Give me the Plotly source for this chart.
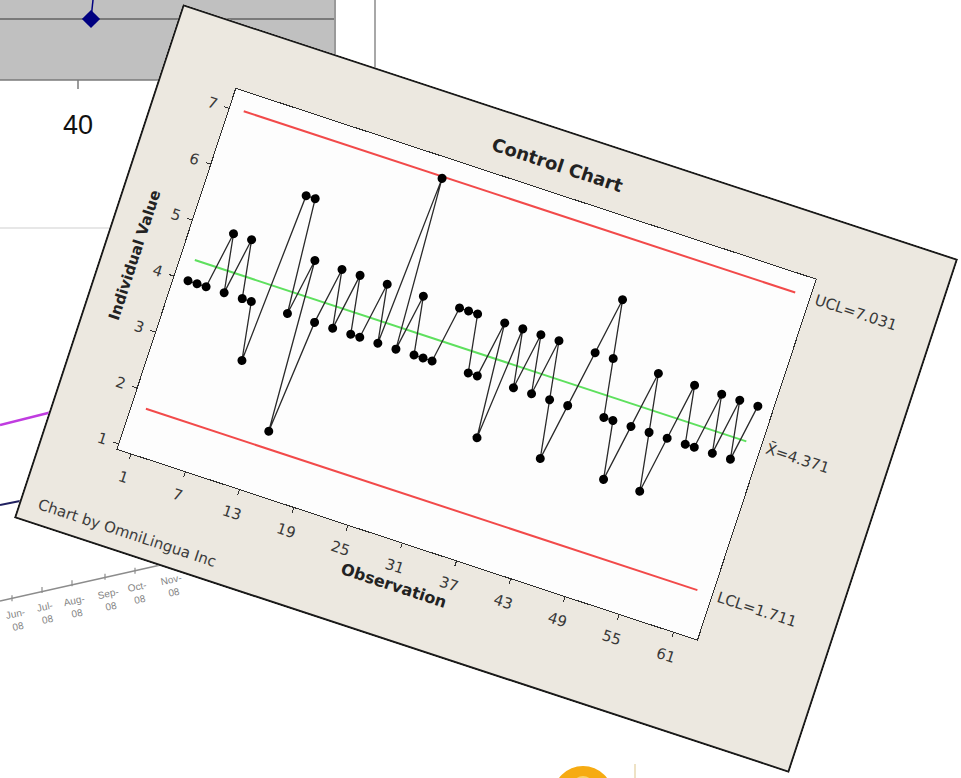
import json
import plotly.graph_objects as go

# ---------------- data ----------------
observation = list(range(1, 63))
individual_value = [4, 4, 4, 5, 4, 5, 4, 4, 3, 6,
                    6, 4, 5, 2, 4, 5, 4, 5, 4, 4,
                    5, 4, 7, 4, 5, 4, 4, 4, 5, 5,
                    5, 4, 4, 5, 3, 5, 4, 5, 4, 5,
                    4, 3, 4, 5, 6, 5, 4, 4, 3, 4,
                    5, 4, 3, 4, 5, 4, 4, 5, 4, 5,
                    4, 5]
ucl_value = 7.031
center_value = 4.371
lcl_value = 1.711
x_tick_values = [1, 7, 13, 19, 25, 31, 37, 43, 49, 55, 61]
y_tick_values = [1, 2, 3, 4, 5, 6, 7]
month_labels = ["Jun-<br>08", "Jul-<br>08", "Aug-<br>08", "Sep-<br>08", "Oct-<br>08", "Nov-<br>08"]

# ---------------- control chart (drawn unrotated, rotated by CSS) ----------------
W, H = 816, 541
ML, MR, MT, MB = 77, 129, 64, 98
PW, PH = W - ML - MR, H - MT - MB
FONT = "DejaVu Sans"
TXT = "#383838"

fig = go.Figure()
for val, col in [(ucl_value, "#f24a4a"), (center_value, "#5ee05e"), (lcl_value, "#f24a4a")]:
    fig.add_trace(go.Scatter(x=[observation[0], observation[-1]], y=[val, val], mode="lines",
                             line=dict(color=col, width=2), hoverinfo="skip", showlegend=False))
fig.add_trace(go.Scatter(x=observation, y=individual_value, mode="lines+markers",
                         line=dict(color="#2a2a2a", width=1.3),
                         marker=dict(color="#000000", size=9),
                         showlegend=False))

axis_common = dict(showgrid=False, zeroline=False, showline=True, mirror=True,
                   linecolor="#303030", linewidth=1, ticks="outside", ticklen=5,
                   tickcolor="#303030", tickfont=dict(family=FONT, size=15, color=TXT))
fig.update_xaxes(range=[-0.5, 63.6], tickvals=x_tick_values, ticklabelstandoff=6,
                 title=dict(text="Observation", standoff=4,
                            font=dict(family=FONT, size=16, color="#222", weight="bold")),
                 **axis_common)
fig.update_yaxes(range=[0.913, 7.35], tickvals=y_tick_values, ticklabelstandoff=4,
                 title=dict(text="Individual Value", standoff=12,
                            font=dict(family=FONT, size=15, color="#222", weight="bold")),
                 **axis_common)

fig.add_annotation(x=1, xref="paper", xanchor="left", xshift=4, y=ucl_value, yref="y",
                   text="UCL=7.031", showarrow=False, font=dict(family=FONT, size=15, color=TXT))
fig.add_annotation(x=1, xref="paper", xanchor="left", xshift=4, y=center_value, yref="y",
                   text="X\u0304=4.371", showarrow=False, font=dict(family=FONT, size=15, color=TXT))
fig.add_annotation(x=1, xref="paper", xanchor="left", xshift=4, y=lcl_value, yref="y",
                   text="LCL=1.711", showarrow=False, font=dict(family=FONT, size=15, color=TXT))
fig.add_annotation(x=(17 - ML) / PW, xref="paper", xanchor="left", y=-(520 - (MT + PH)) / PH,
                   yref="paper", yanchor="middle", text="Chart by OmniLingua Inc", showarrow=False,
                   font=dict(family=FONT, size=15, color="#3c3c3c"))
# outer frame border
fig.add_shape(type="rect", xref="paper", yref="paper",
              x0=(-ML + 1) / PW, x1=(W - ML - 1) / PW, y0=-(MB - 1) / PH, y1=1 + (MT - 1) / PH,
              line=dict(color="#1a1a1a", width=2), fillcolor="rgba(0,0,0,0)")

fig.update_layout(
    width=W, height=H, margin=dict(l=ML, r=MR, t=MT, b=MB, autoexpand=False),
    paper_bgcolor="#ece8e0", plot_bgcolor="#fdfdfd",
    title=dict(text="Control Chart", x=406 / W, xanchor="center", y=1 - 36 / H, yanchor="middle",
               font=dict(family=FONT, size=18, color="#222", weight="bold")),
    font=dict(family=FONT, color=TXT),
)

# ---------------- background page (other charts partly visible) ----------------
bg = go.Figure()
bg.update_layout(width=961, height=778, margin=dict(l=0, r=0, t=0, b=0),
                 paper_bgcolor="#ffffff", plot_bgcolor="#ffffff", showlegend=False,
                 template="none",
                 xaxis=dict(range=[0, 961], visible=False, fixedrange=True),
                 yaxis=dict(range=[778, 0], visible=False, fixedrange=True))
below = dict(layer="below")
bg.add_shape(type="rect", x0=0, x1=335, y0=-2, y1=80, fillcolor="#c0c0c0", line=dict(width=0), **below)
bg.add_shape(type="line", x0=0, x1=335, y0=19, y1=19, line=dict(color="#7a7a7a", width=2), **below)
bg.add_shape(type="line", x0=0, x1=335, y0=80, y1=80, line=dict(color="#7a7a7a", width=1.5), **below)
bg.add_shape(type="line", x0=335, x1=335, y0=0, y1=80, line=dict(color="#9a9a9a", width=2), **below)
bg.add_shape(type="line", x0=78, x1=78, y0=80, y1=89, line=dict(color="#7a7a7a", width=1.5), **below)
bg.add_shape(type="line", x0=375, x1=375, y0=0, y1=90, line=dict(color="#a8a8a8", width=2), **below)
bg.add_shape(type="line", x0=0, x1=130, y0=228, y1=228, line=dict(color="#cfcfcf", width=1), **below)
bg.add_shape(type="line", x0=93, x1=91, y0=0, y1=19, line=dict(color="#000080", width=1.5), **below)
bg.add_trace(go.Scatter(x=[91], y=[19], mode="markers", hoverinfo="skip",
                        marker=dict(symbol="diamond", size=14, color="#000080")))
bg.add_annotation(x=78, y=125, text="40", showarrow=False,
                  font=dict(family="Liberation Sans", size=27, color="#111"))
bg.add_shape(type="line", x0=0, x1=52, y0=425, y1=412, line=dict(color="#c03ce0", width=2.5), **below)
bg.add_shape(type="line", x0=0, x1=20, y0=505, y1=501, line=dict(color="#202060", width=2), **below)
bg.add_shape(type="line", x0=0, x1=165, y0=601, y1=564, line=dict(color="#8c8c8c", width=1.5), **below)
month_x = [16.7, 45.8, 75, 109, 138.7, 172]
month_y = [620, 613, 607, 600, 593, 586.3]
tick_x = [12, 42, 72, 105, 135]
tick_y = [598.3, 590, 583.3, 576.7, 570.7]
for tx, ty in zip(tick_x, tick_y):
    bg.add_shape(type="line", x0=tx, x1=tx, y0=ty - 3, y1=ty + 3, line=dict(color="#8c8c8c", width=1.2), **below)
for lbl, mx, my in zip(month_labels, month_x, month_y):
    bg.add_annotation(x=mx, y=my, text=lbl, showarrow=False, textangle=-12,
                      font=dict(family="Liberation Sans", size=10, color="#858585"))
bg.add_shape(type="circle", x0=553, x1=613, y0=766, y1=826, fillcolor="#f6ab12", line=dict(width=0), **below)
bg.add_shape(type="circle", x0=572, x1=594, y0=776, y1=798, fillcolor="#fbd36a", line=dict(width=0), **below)
bg.add_shape(type="line", x0=635, x1=635, y0=764, y1=778, line=dict(color="#e9d9b2", width=1.5), **below)

bg_spec = bg.to_json()

cx, cy, angle = 486.0, 388.25, 18.2
post_js = (
    "document.documentElement.style.margin='0';"
    "document.body.style.margin='0';"
    "document.body.style.overflow='hidden';"
    "document.body.style.background='#ffffff';"
    "var gd=document.getElementById('{plot_id}');"
    "gd.style.position='absolute';"
    "gd.style.left='" + str(cx - W / 2) + "px';"
    "gd.style.top='" + str(cy - H / 2) + "px';"
    "gd.style.transformOrigin='50% 50%';"
    "gd.style.transform='rotate(" + str(angle) + "deg)';"
    "gd.style.zIndex='2';"
    "var bgd=document.createElement('div');"
    "bgd.style.position='absolute';bgd.style.left='0px';bgd.style.top='0px';"
    "bgd.style.width='961px';bgd.style.height='778px';bgd.style.zIndex='1';"
    "document.body.appendChild(bgd);"
    "var spec=" + bg_spec + ";"
    "Plotly.newPlot(bgd, spec.data, spec.layout, {staticPlot:true, displayModeBar:false});"
)

fig.write_html("out.html", config={"displayModeBar": False}, post_script=post_js)
